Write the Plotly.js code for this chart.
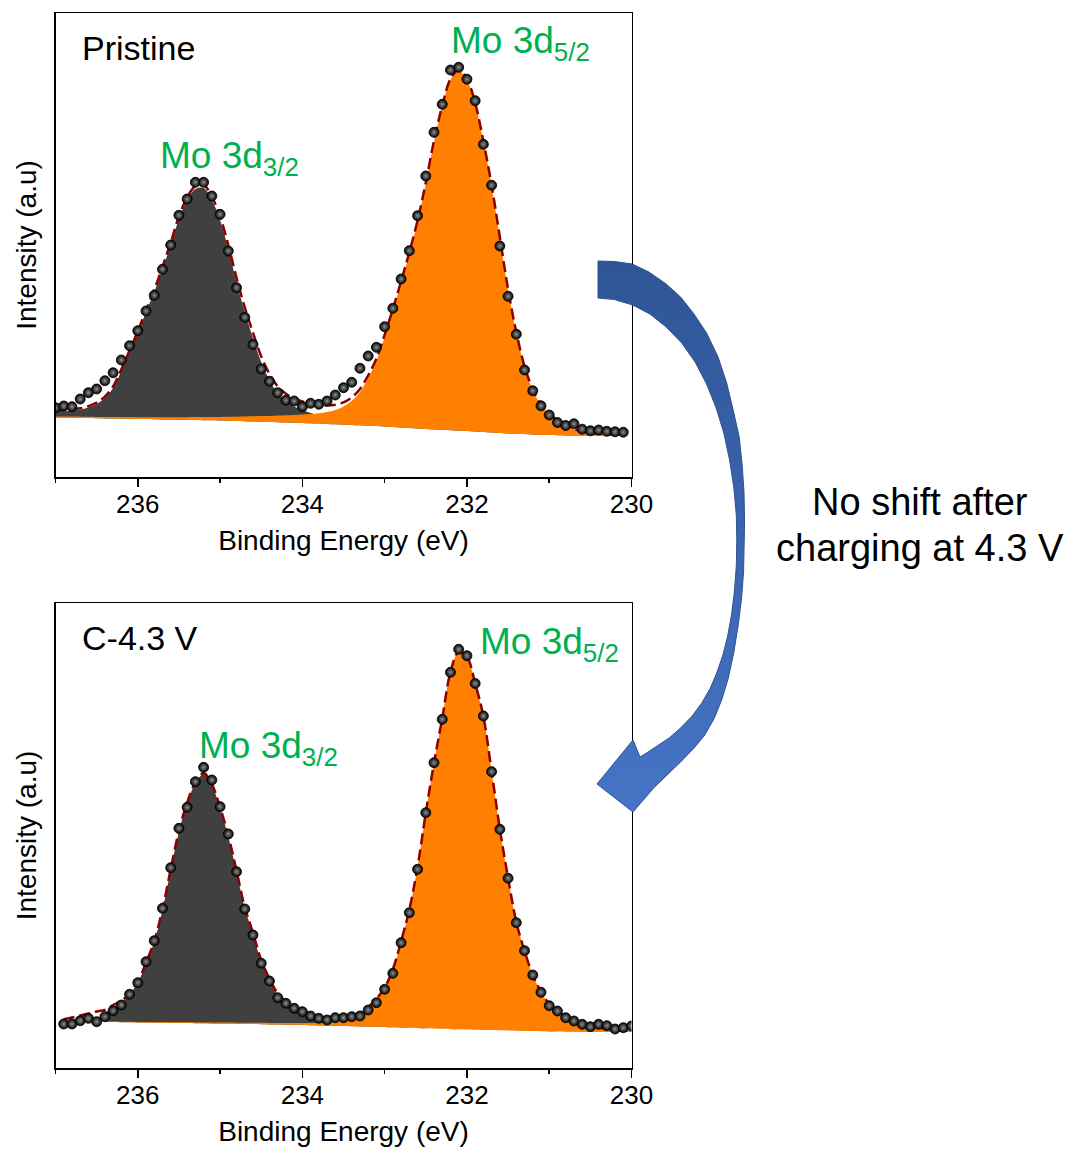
<!DOCTYPE html>
<html><head><meta charset="utf-8">
<script src="https://cdn.plot.ly/plotly-3.0.1.min.js"></script>
<style>html,body{margin:0;padding:0;background:#fff;}</style>
</head><body><div id="chart" style="width:1071px;height:1152px;"></div>
<script>
// ---------------- DATA ----------------
// Pristine panel: measured points and fit curves on the same energy grid
const energyTop = [237.0,236.9,236.8,236.7,236.6,236.5,236.4,236.3,236.2,236.1,
  236.0,235.9,235.8,235.7,235.6,235.5,235.4,235.3,235.2,235.1,
  235.0,234.9,234.8,234.7,234.6,234.5,234.4,234.3,234.2,234.1,
  234.0,233.9,233.8,233.7,233.6,233.5,233.4,233.3,233.2,233.1,
  233.0,232.9,232.8,232.7,232.6,232.5,232.4,232.3,232.2,232.1,
  232.0,231.9,231.8,231.7,231.6,231.5,231.4,231.3,231.2,231.1,
  231.0,230.9,230.8,230.7,230.6,230.5,230.4,230.3,230.2,230.1];
const dataTop = [69.3,71.0,70.3,78.0,84.3,88.0,96.3,104.3,117.0,131.3,
  146.3,166.0,181.7,207.7,232.0,261.7,278.0,294.7,294.7,281.0,
  262.7,226.0,189.3,159.7,132.5,108.0,95.7,84.3,76.7,76.0,
  70.3,73.7,72.7,76.0,82.0,89.3,94.7,108.7,121.0,129.7,
  150.3,168.7,198.0,226.3,261.3,301.0,344.7,372.7,407.0,409.7,
  397.8,376.3,332.7,291.8,231.0,180.7,142.8,107.0,86.2,71.2,
  62.0,54.5,51.5,53.2,47.8,46.2,47.0,45.7,45.2,44.8];
const bgTop = [59.5,59.4,59.2,59.1,58.9,58.8,58.6,58.5,58.3,58.2,
  58.0,57.9,57.7,57.6,57.4,57.3,57.1,57.0,56.8,56.7,
  56.5,56.3,56.0,55.8,55.5,55.3,55.0,54.8,54.5,54.3,
  54.0,53.7,53.4,53.1,52.8,52.5,52.1,51.7,51.3,50.9,
  50.5,50.0,49.5,49.0,48.5,48.0,47.6,47.2,46.8,46.4,
  46.0,45.5,45.0,44.5,44.0,43.5,43.2,42.9,42.6,42.3,
  42.0,41.8,41.6,41.4,41.2,41.0,41.0,41.0,41.0,41.0];
const mo32Top = [65.0,65.5,66.5,67.5,69.5,73.0,79.0,89.0,106.0,125.0,
  144.0,165.0,185.0,208.0,232.0,258.0,277.0,288.0,289.0,277.0,
  257.0,228.0,195.0,165.0,139.0,115.0,97.0,84.0,76.0,70.5,
  67.0,64.0,61.5,59.5,58.0,56.7,55.7,54.8,54.0,53.3,
  52.7,52.0,51.3,50.7,50.0,49.4,48.9,48.4,47.9,47.5,
  47.0,46.5,45.9,45.3,44.8,44.3,43.9,43.6,43.3,43.0,
  42.7,42.4,42.2,42.0,41.8,41.6,41.6,41.5,41.5,41.5];
const mo52Top = [60.5,60.5,60.4,60.3,60.2,60.1,60.0,60.0,59.9,59.9,
  59.8,59.8,59.8,59.8,59.8,59.8,59.8,59.9,59.9,60.0,
  60.1,60.2,60.3,60.5,60.7,60.9,61.1,61.4,61.7,62.1,
  62.5,63.0,63.7,65.0,67.0,70.5,76.0,85.0,99.0,116.0,
  140.0,166.0,194.0,223.0,255.0,293.0,335.0,370.0,397.0,406.0,
  397.0,373.0,335.0,291.0,239.0,187.0,144.0,110.0,87.0,72.0,
  63.0,56.0,51.0,47.5,45.0,43.5,42.7,42.2,41.8,41.6];
const envTop = [66.0,66.6,67.7,68.7,70.8,74.3,80.4,90.5,107.6,126.7,
  145.8,166.9,187.1,210.2,234.4,260.5,279.7,290.9,292.1,280.3,
  260.6,231.9,199.3,169.7,144.2,120.6,103.1,90.6,83.2,78.3,
  75.5,73.3,71.8,71.4,72.2,74.7,79.6,88.1,101.7,118.4,
  142.2,168.0,195.8,224.7,256.5,294.4,336.3,371.2,398.1,407.1,
  398.0,374.0,335.9,291.8,239.8,187.8,144.7,110.7,87.7,72.7,
  63.7,56.6,51.6,48.1,45.6,44.1,43.3,42.7,42.3,42.1];

// C-4.3 V panel
const energyBottom = [236.9,236.8,236.7,236.6,236.5,236.4,236.3,236.2,236.1,236.0,
  235.9,235.8,235.7,235.6,235.5,235.4,235.3,235.2,235.1,235.0,
  234.9,234.8,234.7,234.6,234.5,234.4,234.3,234.2,234.1,234.0,
  233.9,233.8,233.7,233.6,233.5,233.4,233.3,233.2,233.1,233.0,
  232.9,232.8,232.7,232.6,232.5,232.4,232.3,232.2,232.1,232.0,
  231.9,231.8,231.7,231.6,231.5,231.4,231.3,231.2,231.1,231.0,
  230.9,230.8,230.7,230.6,230.5,230.4,230.3,230.2,230.1,230.0];
const dataBottom = [44.0,44.0,47.3,49.7,46.3,51.3,57.3,63.0,73.7,85.3,
  106.3,127.3,159.7,200.3,239.7,260.7,286.3,300.7,288.0,261.3,
  234.0,196.3,159.0,133.0,104.7,87.0,70.3,64.7,59.7,56.3,
  52.0,49.7,48.0,50.3,50.3,51.3,52.0,58.0,65.3,78.7,
  94.7,125.3,155.3,198.7,255.3,305.3,348.7,395.7,418.7,412.3,
  384.5,352.0,296.3,238.7,189.7,145.3,117.3,93.0,75.7,62.3,
  57.0,50.3,47.0,43.7,41.3,43.7,42.3,39.0,40.3,42.0];
const envBottom = [48.7,50.5,52.5,54.5,56.5,58.0,63.0,67.0,75.0,85.9,
  105.3,127.0,158.7,198.7,237.1,265.5,285.5,294.9,283.9,260.7,
  232.3,197.4,160.9,135.3,107.7,89.5,74.6,66.4,60.5,56.7,
  53.5,51.2,50.0,49.5,50.2,51.9,54.8,60.9,69.1,80.3,
  98.7,126.8,158.4,201.2,255.2,305.1,349.6,396.0,416.1,411.1,
  384.6,351.6,296.6,239.1,190.1,146.1,117.1,93.1,76.1,64.2,
  57.2,51.2,47.2,43.7,41.7,40.2,39.2,38.4,37.9,37.5];
const fitEnergyBottom = [236.4,236.3,236.2,236.1,236.0,
  235.9,235.8,235.7,235.6,235.5,235.4,235.3,235.2,235.1,235.0,
  234.9,234.8,234.7,234.6,234.5,234.4,234.3,234.2,234.1,234.0,
  233.9,233.8,233.7,233.6,233.5,233.4,233.3,233.2,233.1,233.0,
  232.9,232.8,232.7,232.6,232.5,232.4,232.3,232.2,232.1,232.0,
  231.9,231.8,231.7,231.6,231.5,231.4,231.3,231.2,231.1,231.0,
  230.9,230.8,230.7,230.6,230.5,230.4,230.3,230.2,230.1,230.0];
const bgBottom = [46.0,45.9,45.8,45.7,45.5,
  45.4,45.3,45.2,45.1,45.0,44.9,44.8,44.7,44.6,44.5,
  44.4,44.2,44.1,43.9,43.8,43.6,43.5,43.3,43.2,43.0,
  42.8,42.6,42.4,42.2,42.0,41.8,41.6,41.4,41.2,41.0,
  40.7,40.5,40.2,40.0,39.7,39.5,39.2,39.0,38.7,38.5,
  38.3,38.1,37.9,37.7,37.5,37.3,37.1,36.9,36.7,36.5,
  36.4,36.3,36.2,36.1,36.0,36.0,36.0,36.0,36.0,36.0];
const mo32Bottom = [55.0,60.5,65.0,74.0,85.3,
  104.7,126.3,158.0,198.0,236.3,264.7,284.7,294.0,283.0,259.7,
  231.3,196.3,159.7,134.0,106.3,88.0,73.0,64.7,58.7,54.7,
  51.3,48.7,47.0,45.7,44.7,44.0,43.4,42.8,42.3,41.8,
  41.4,41.0,40.6,40.2,39.9,39.6,39.3,39.0,38.8,38.6,
  38.4,38.2,38.0,37.8,37.6,37.4,37.2,37.0,36.8,36.7,
  36.6,36.5,36.4,36.3,36.2,36.2,36.2,36.2,36.2,36.2];
const mo52Bottom = [46.5,46.4,46.3,46.2,46.1,
  46.0,46.0,45.9,45.8,45.8,45.7,45.6,45.6,45.5,45.5,
  45.4,45.3,45.3,45.2,45.2,45.1,45.1,45.0,45.0,45.0,
  45.0,45.1,45.4,46.0,47.5,49.7,53.0,59.5,68.0,79.5,
  98.0,126.3,158.0,201.0,255.0,305.0,349.5,396.0,416.0,411.0,
  384.5,351.5,296.5,239.0,190.0,146.0,117.0,93.0,76.0,64.0,
  57.0,51.0,47.0,43.5,41.5,40.0,39.0,38.2,37.7,37.3];

const tickValues = [236, 234, 232, 230];
const tickLabels = ['236', '234', '232', '230'];

// Decorative curved arrow outline (page pixel coordinates)
const arrowOutline = [[598,261],[614.3,261.5],[632.2,264],[648.9,272],[666.2,284],[680.6,297],[694,314],
  [706.6,333],[718.1,357],[726.7,383],[733.4,411],[739.2,437],[742.1,464],[744,492],[744.6,521],
  [744.4,546],[743.6,571],[741.6,598],[738.2,625],[733.9,652],[728.3,678],[722,699],[714.4,718],
  [704.8,735],[694.1,748],[680.6,762],[667.1,775],[653.6,788],
  [633,812],[597,784],[633,740],[640,757],
  [648,752],[657.6,746],[669.1,738],[680.6,728],[692.2,716],[701.8,703],[710.4,688],[717.1,672],
  [722.9,655],[727.7,636],[731.5,615],[734.4,592],[736.3,566],[736.8,540],[736.3,515],[733.9,488],
  [729.6,460],[723.8,433],[716.2,408],[706.6,384],[695.1,362],[681.7,343],[666.2,327],[649.9,314],
  [632.6,305],[614.3,299.5],[598,298],[598,261]];

// ---------------- STYLE ----------------
const W = 1071, H = 1152;
const FONT = 'Liberation Sans, Arial, Helvetica, sans-serif';
const GRAY = '#404040', ORANGE = '#FF8000', FITLINE = '#8B0000', GREEN = '#00B050';

function fitTraces(xa, ya, xFit, bg, c1, c2, xEnv, env, xData, data) {
  const base = {xaxis: xa, yaxis: ya, mode: 'lines', hoverinfo: 'skip', showlegend: false};
  return [
    Object.assign({}, base, {x: xFit, y: bg, line: {width: 0, shape: 'spline'}}),
    Object.assign({}, base, {name: 'Mo 3d3/2', x: xFit, y: c1, fill: 'tonexty', fillcolor: GRAY, line: {width: 0, shape: 'spline'}}),
    Object.assign({}, base, {x: xFit, y: bg, line: {width: 0, shape: 'spline'}}),
    Object.assign({}, base, {name: 'Mo 3d5/2', x: xFit, y: c2, fill: 'tonexty', fillcolor: ORANGE, line: {width: 0, shape: 'spline'}}),
    Object.assign({}, base, {name: 'Envelope', x: xEnv, y: env, line: {width: 2.5, color: FITLINE, dash: '11px,5px', shape: 'spline'}}),
    {xaxis: xa, yaxis: ya, mode: 'markers', name: 'Data', x: xData, y: data, showlegend: false, hoverinfo: 'skip',
     marker: {size: 10, color: '#000', line: {width: 0.8, color: '#000'}, gradient: {type: 'radial', color: '#909090'}}}
  ];
}

const traces = []
  .concat(fitTraces('x', 'y', energyTop, bgTop, mo32Top, mo52Top, energyTop, envTop, energyTop, dataTop))
  .concat(fitTraces('x2', 'y2', fitEnergyBottom, bgBottom, mo32Bottom, mo52Bottom, energyBottom, envBottom, energyBottom, dataBottom));

traces.push({
  xaxis: 'x3', yaxis: 'y3', x: arrowOutline.map(p => p[0]), y: arrowOutline.map(p => p[1]),
  mode: 'lines', fill: 'toself', fillcolor: '#3C64AE', hoverinfo: 'skip', showlegend: false,
  line: {width: 1, color: '#2F528F'},
  fillgradient: {type: 'vertical', colorscale: [[0, '#4674C6'], [1, '#2F5597']], start: 810, stop: 260}
});

function xAxis(anchor, domain) {
  return {
    domain: domain, anchor: anchor, range: [237, 230], autorange: false,
    tickmode: 'array', tickvals: tickValues, ticktext: tickLabels,
    ticks: 'outside', ticklen: 8, tickwidth: 1.5, tickcolor: '#000', ticklabelstandoff: -5,
    minor: {dtick: 1, tick0: 230, ticks: 'outside', ticklen: 4, tickwidth: 1.5, tickcolor: '#000', showgrid: false},
    showline: true, linewidth: 1.5, linecolor: '#000', mirror: true,
    showgrid: false, zeroline: false, automargin: false, fixedrange: true,
    tickfont: {size: 26, color: '#000', family: FONT},
    title: {text: 'Binding Energy (eV)', font: {size: 28, color: '#000', family: FONT}, standoff: 12}
  };
}
function yAxis(anchor, domain, top) {
  return {
    domain: domain, anchor: anchor, range: [0, top], autorange: false,
    showticklabels: false, ticks: '', showline: true, linewidth: 1.5, linecolor: '#000', mirror: true,
    showgrid: false, zeroline: false, automargin: false, fixedrange: true,
    title: {text: 'Intensity (a.u)', font: {size: 28, color: '#000', family: FONT}, standoff: 9}
  };
}

const dx = p => p / W;
const dy = p => 1 - p / H;

function label(text, x, y, size, color, anchor) {
  return {text: text, xref: 'paper', yref: 'paper', x: dx(x), y: dy(y), xanchor: anchor || 'left', yanchor: 'middle',
          showarrow: false, font: {size: size, color: color, family: FONT}};
}

const layout = {
  width: W, height: H, margin: {l: 0, r: 0, t: 0, b: 0},
  paper_bgcolor: '#fff', plot_bgcolor: 'rgba(0,0,0,0)',
  font: {family: FONT, color: '#000'},
  showlegend: false,
  xaxis: xAxis('y', [55.5 / W, 631.5 / W]),
  yaxis: yAxis('x', [1 - 477 / H, 1 - 13 / H], 464),
  xaxis2: xAxis('y2', [55.5 / W, 631.5 / W]),
  yaxis2: yAxis('x2', [1 - 1068 / H, 1 - 603 / H], 465),
  xaxis3: {domain: [0, 1], anchor: 'y3', range: [0, W], visible: false, fixedrange: true},
  yaxis3: {domain: [0, 1], anchor: 'x3', range: [H, 0], visible: false, fixedrange: true},
  annotations: [
    label('Pristine', 80, 48, 34, '#000'),
    label('Mo 3d<sub>3/2</sub>', 158, 157.5, 37, GREEN),
    label('Mo 3d<sub>5/2</sub>', 449, 42.5, 37, GREEN),
    label('C-4.3 V', 80, 638, 34, '#000'),
    label('Mo 3d<sub>3/2</sub>', 197, 747.5, 37, GREEN),
    label('Mo 3d<sub>5/2</sub>', 478, 644, 37, GREEN),
    label('No shift after', 920, 502, 38, '#000', 'center'),
    label('charging at 4.3 V', 920, 548, 38, '#000', 'center')
  ]
};

Plotly.newPlot('chart', traces, layout, {displayModeBar: false, staticPlot: true});
</script>
</body></html>
